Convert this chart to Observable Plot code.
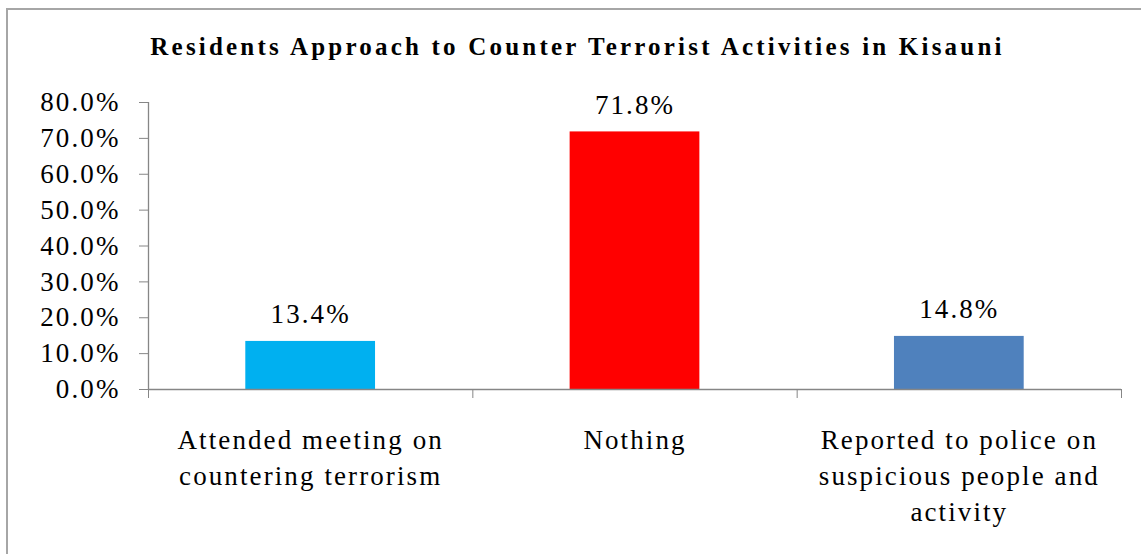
<!DOCTYPE html>
<html>
<head>
<meta charset="utf-8">
<script src="https://cdn.jsdelivr.net/npm/d3@7"></script>
<script src="https://cdn.jsdelivr.net/npm/@observablehq/plot@0.6"></script>
<style>
  html, body { margin: 0; padding: 0; background: #fff; overflow: hidden; }
  #wrap { position: relative; width: 1141px; height: 554px; }
  #frame { position: absolute; left: 6px; top: 8px; width: 1200px; height: 600px;
           border-left: 2px solid #a6a6a6; border-top: 2px solid #a6a6a6; box-sizing: border-box; }
  #title { position: absolute; left: 0; top: 0; width: 1141px; height: 70px; box-sizing: border-box;
           padding-top: 33px; padding-left: 14px; text-align: center; font-family: "Liberation Serif", serif;
           font-weight: bold; font-size: 25px; line-height: 28px; color: #000; letter-spacing: 3.2px; }
  #chart { position: absolute; left: 0; top: 70px; }
  #chart svg text { letter-spacing: 2.1px; }
</style>
</head>
<body>
<div id="wrap">
  <div id="frame"></div>
  <div id="title">Residents Approach to Counter Terrorist Activities in Kisauni</div>
  <div id="chart"></div>
</div>
<script>
const categories = [
  "Attended meeting on\ncountering terrorism",
  "Nothing",
  "Reported to police on\nsuspicious people and\nactivity"
];
const values = [0.134, 0.718, 0.148];
const colors = ["#00B0F0", "#FF0000", "#4F81BD"];
const yTicks = [0, 0.1, 0.2, 0.3, 0.4, 0.5, 0.6, 0.7, 0.8];
const boundaries = [0, 1, 2, 3];

const data = categories.map((c, i) => ({cat: c, i, value: values[i], color: colors[i]}));
const font = "Liberation Serif";
const axisColor = "#868686";

const chart = Plot.plot({
  width: 1141,
  height: 484,
  marginTop: 32,
  marginBottom: 165,
  marginLeft: 148,
  marginRight: 20,
  style: {fontFamily: font, fontSize: "27px", color: "#000", background: "transparent"},
  x: {type: "linear", domain: [0, 3], axis: null},
  y: {type: "linear", domain: [0, 0.8], axis: null},
  marks: [
    Plot.rectY(data, {x1: d => d.i + 0.3, x2: d => d.i + 0.7, y1: () => 0, y2: "value", fill: "color"}),
    Plot.ruleX([0], {y1: () => 0, y2: () => 0.8, stroke: axisColor, strokeWidth: 1.3}),
    Plot.ruleY([0], {stroke: axisColor, strokeWidth: 1.3}),
    Plot.axisY(yTicks, {tickSize: 9, tickPadding: 19, tickFormat: d3.format(".1%"), stroke: axisColor,
      fill: "#000", fontSize: 27, fontFamily: font, label: null}),
    Plot.axisX(boundaries, {tickSize: 9, tickFormat: () => "", stroke: axisColor, label: null}),
    Plot.text(data, {x: d => d.i + 0.5, y: "value", text: d => d3.format(".1%")(d.value),
      lineAnchor: "bottom", dy: -18, fontSize: 27, fill: "#000", fontFamily: font}),
    Plot.text(data, {x: d => d.i + 0.5, y: () => 0, text: "cat", lineAnchor: "top", dy: 34,
      lineHeight: 1.33, fontSize: 27, fill: "#000", fontFamily: font})
  ]
});
document.getElementById("chart").appendChild(chart);
</script>
</body>
</html>
